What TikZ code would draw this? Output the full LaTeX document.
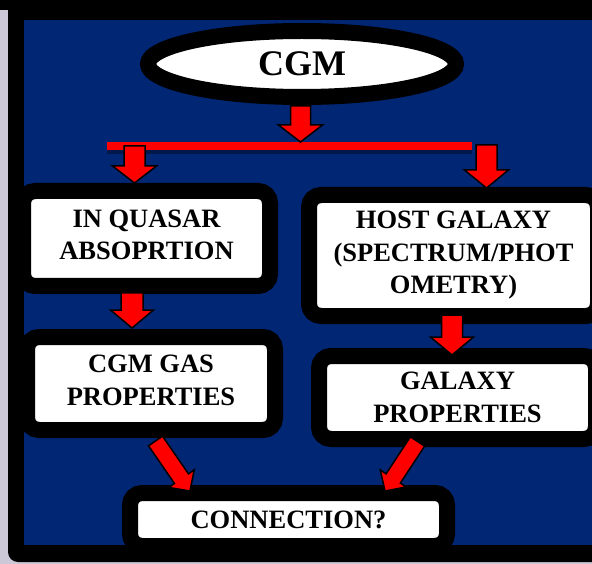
\documentclass[tikz,border=0pt]{standalone}
\usepackage{fontspec}
\setmainfont{Liberation Serif}
\usetikzlibrary{calc,shapes.geometric}
\definecolor{bgblue}{RGB}{0,38,116}
\definecolor{edgegray}{RGB}{205,200,215}
\newcommand\boxfont{\bfseries\fontsize{26.5}{32.5}\selectfont}
\newcommand\dnrule[1]{\rule[-#1]{0pt}{#1}}
\newcommand\blockarrow[5]{%
  \coordinate (hb) at ($(#2)!#5!(#1)$);
  \filldraw[arrowbody] ($(#1)!#3!90:(#2)$) -- ($(hb)!#3!90:(#2)$) -- ($(hb)!#4!90:(#2)$) -- (#2)
    -- ($(hb)!#4!-90:(#2)$) -- ($(hb)!#3!-90:(#2)$) -- ($(#1)!#3!-90:(#2)$) -- cycle;}
\begin{document}
\begin{tikzpicture}[x=1pt,y=-1pt,
  box/.style={draw=black, line width=16pt, fill=white, rounded corners=12pt,
    inner sep=0pt, align=center, font=\boxfont, text=black},
  arrowbody/.style={fill=red, draw=black, line width=1.5pt, line join=miter}]
\useasboundingbox (0,0) rectangle (592,564);
\clip (0,0) rectangle (592,564);
% frame
\fill[edgegray] (0,0) rectangle (592,564);
\fill[black, rounded corners=10pt] (8,-20) rectangle (620,562);
\fill[black] (0,0) rectangle (592,10);
\fill[bgblue] (24,20) rectangle (620,545);
% top ellipse
\node[ellipse, draw=black, line width=16pt, fill=white, minimum width=308pt,
  minimum height=66pt, inner sep=0pt, font=\bfseries\fontsize{36}{40}\selectfont]
  (cgm) at (302,64) {\raisebox{-7pt}{CGM}};
% boxes
\node[box, minimum width=247pt, minimum height=95pt] (quasar) at (146.5,238.5)
  {IN QUASAR\\ABSOPRTION\dnrule{8pt}};
\node[box, minimum width=248pt, minimum height=93pt] (gas) at (151,383.5)
  {CGM GAS\\PROPERTIES\dnrule{7pt}};
\node[box, minimum width=289pt, minimum height=121pt] (host) at (453.5,255.5)
  {HOST GALAXY\\(SPECTRUM/PHOT\\OMETRY)};
\node[box, minimum width=277pt, minimum height=83pt] (galprop) at (457.5,397.5)
  {GALAXY\\PROPERTIES};
\node[box, minimum width=317pt, minimum height=53pt] (conn) at (288.5,519.5)
  {CONNECTION?};
% red bar
\coordinate (barL) at (107,146);
\coordinate (barR) at (472,146);
\draw[line width=7pt, black, opacity=0.35] ([yshift=-5pt]barL) -- ([yshift=-5pt]barR);
\draw[line width=8pt, red] (barL) -- (barR);
% arrow end points
\coordinate (a0s) at (300.5,106);  \coordinate (a0e) at (300.5,142);
\coordinate (a1s) at (134.5,146);  \coordinate (a1e) at (134.5,183);
\coordinate (a2s) at (486.5,145);  \coordinate (a2e) at (486.5,188);
\coordinate (a3s) at (132,293);    \coordinate (a3e) at (132,328);
\coordinate (a4s) at (452,315);    \coordinate (a4e) at (452,355);
\coordinate (a5s) at (155.5,441);  \coordinate (a5e) at (190,491);
\coordinate (a6s) at (417.5,441.5);\coordinate (a6e) at (385,491);
\blockarrow{a0s}{a0e}{10pt}{22pt}{17pt}
\blockarrow{a1s}{a1e}{10.5pt}{22pt}{17pt}
\blockarrow{a2s}{a2e}{10.5pt}{22pt}{18pt}
\blockarrow{a3s}{a3e}{11pt}{21.5pt}{18pt}
\blockarrow{a4s}{a4e}{10.5pt}{21.5pt}{18pt}
\blockarrow{a5s}{a5e}{8.5pt}{15.5pt}{15pt}
\blockarrow{a6s}{a6e}{8.5pt}{15.5pt}{15pt}
\end{tikzpicture}
\end{document}
